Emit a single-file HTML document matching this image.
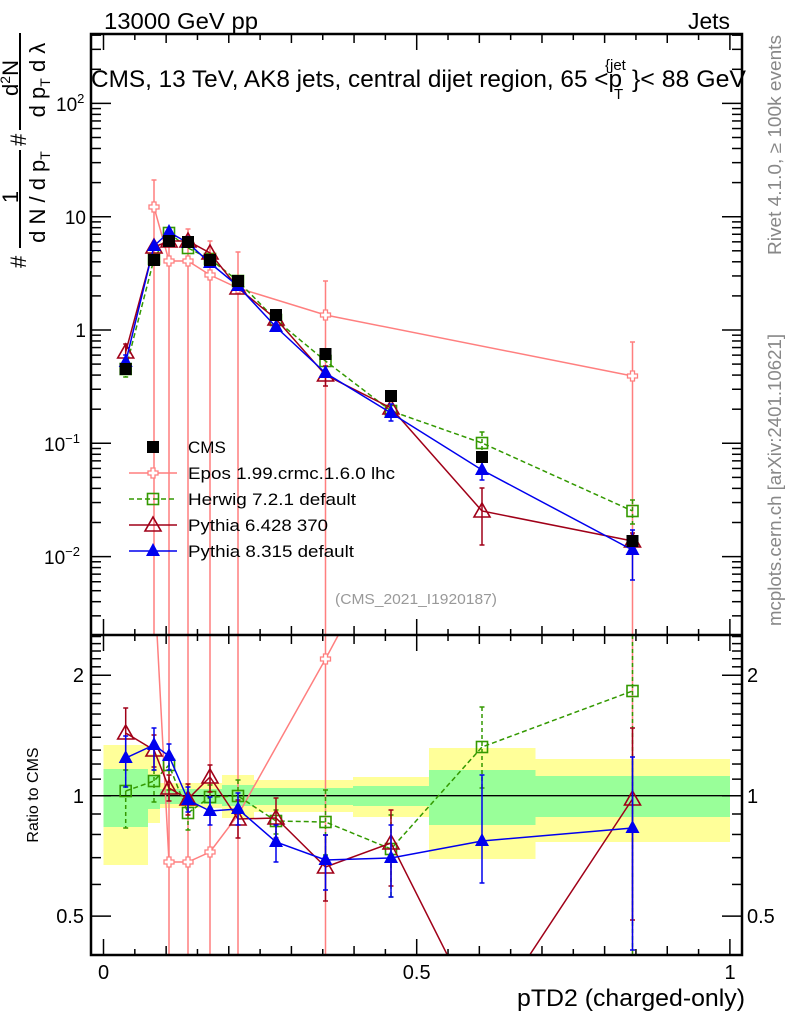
<!DOCTYPE html>
<html><head><meta charset="utf-8"><style>
body{margin:0;background:#fff;}
svg{display:block;font-family:"Liberation Sans",sans-serif;}
</style></head><body>
<svg id="s" width="786" height="1024" xmlns="http://www.w3.org/2000/svg">
<defs>
<clipPath id="cm"><rect x="91" y="34" width="651" height="601"/></clipPath>
<clipPath id="cr"><rect x="91" y="635" width="651" height="320"/></clipPath>
</defs>
<rect width="786" height="1024" fill="#fff"/>
<g id="bands"></g>
<g id="ax"></g>
<g id="dm" clip-path="url(#cm)"></g>
<g id="dr" clip-path="url(#cr)"></g>
<g id="fr"></g>
<text x="104" y="29" font-size="23" textLength="154" lengthAdjust="spacingAndGlyphs">13000 GeV pp</text>
<text x="688" y="29" font-size="23" textLength="42" lengthAdjust="spacingAndGlyphs">Jets</text>
<text x="91" y="87" font-size="24" textLength="531" lengthAdjust="spacingAndGlyphs">CMS, 13 TeV, AK8 jets, central dijet region, 65 &lt;p</text>
<text x="614" y="99" font-size="15">T</text>
<text x="605" y="70" font-size="15">{jet</text>
<text x="632" y="87" font-size="24" textLength="114" lengthAdjust="spacingAndGlyphs">}&lt; 88 GeV</text>
<text x="416" y="604" font-size="15" fill="#999" text-anchor="middle" textLength="162" lengthAdjust="spacingAndGlyphs">(CMS_2021_I1920187)</text>
<text transform="translate(781,145) rotate(-90)" font-size="18" fill="#888" text-anchor="middle" textLength="220" lengthAdjust="spacingAndGlyphs">Rivet 4.1.0, ≥ 100k events</text>
<text transform="translate(781,480) rotate(-90)" font-size="18" fill="#888" text-anchor="middle" textLength="292" lengthAdjust="spacingAndGlyphs">mcplots.cern.ch [arXiv:2401.10621]</text>
<text transform="translate(38,795) rotate(-90)" font-size="16" text-anchor="middle">Ratio to CMS</text>
<text x="745" y="1006" font-size="24" text-anchor="end" textLength="228" lengthAdjust="spacingAndGlyphs">pTD2 (charged-only)</text>
<g font-size="22">
<text transform="translate(26,268) rotate(-90)">#</text>
<line x1="20" y1="248" x2="20" y2="150" stroke="#000" stroke-width="2"/>
<text transform="translate(18,197) rotate(-90)" text-anchor="middle">1</text>
<text transform="translate(45,197) rotate(-90)" text-anchor="middle">d N / d p<tspan font-size="14" dy="5">T</tspan></text>
<text transform="translate(26,146) rotate(-90)">#</text>
<line x1="20" y1="130" x2="20" y2="33" stroke="#000" stroke-width="2"/>
<text transform="translate(18,78) rotate(-90)" text-anchor="middle">d<tspan font-size="14" dy="-8">2</tspan><tspan dy="8">N</tspan></text>
<text transform="translate(45,80) rotate(-90)" text-anchor="middle">d p<tspan font-size="14" dy="5">T</tspan><tspan dy="-5"> d λ</tspan></text>
</g>
<g id="leg"></g>
</svg>
<script>
const NS="http://www.w3.org/2000/svg";
function el(p,t,a,txt){const e=document.createElementNS(NS,t);for(const k in a)e.setAttribute(k,a[k]);if(txt!==undefined)e.textContent=txt;document.getElementById(p).appendChild(e);return e;}
const bands=[[103.5,148,745,865,769,827],[148,160,754,823,776,809],[160,222,783,808,789,804],[222,254,775,818,785,806],[254,353,780,812,788,805],[353,429,777,817,786,806],[429,535.5,748,859,770,825],[535.5,730,759,842,776,817]];
bands.forEach(b=>{el("bands","rect",{x:b[0],y:b[2],width:b[1]-b[0],height:b[3]-b[2],fill:"#ffff99"});el("bands","rect",{x:b[0],y:b[4],width:b[1]-b[0],height:b[5]-b[4],fill:"#99ff99"});});
el("bands","line",{x1:91,y1:795.7,x2:742,y2:795.7,stroke:"#000","stroke-width":1.3});
const L=91,R=742,T=34,M=635,B=955,X0=103.5,XS=626.4;
function ln(x1,y1,x2,y2){el("ax","line",{x1,y1,x2,y2,stroke:"#000","stroke-width":1.5});}
for(let i=0;i<=20;i++){const x=X0+i*0.05*XS;const len=i%10==0?16:(i%2==0?9:6);
 [T,M].forEach(y=>ln(x,y,x,y+len));[M,B].forEach(y=>ln(x,y,x,y-len));}
const y1=330,dec=113.3;
for(let d=-3;d<=2;d++)for(let k=1;k<10;k++){const y=y1-(d+Math.log10(k))*dec;if(y<T||y>M)continue;const len=k==1?20:10;ln(L,y,L+len,y);ln(R,y,R-len,y);}
[["10",104,"2"],["10",217,""],["1",330,""],["10",444,"−1"],["10",557,"−2"]].forEach(a=>{const t=el("ax","text",{x:86,y:a[1]+7,"font-size":19,"text-anchor":"end"},a[0]);if(a[2]){t.setAttribute("text-anchor","start");t.setAttribute("x",a[2].length>1?44:56);const ts=document.createElementNS(NS,"tspan");ts.setAttribute("font-size",13);ts.setAttribute("dy",-8);ts.textContent=a[2];t.appendChild(ts);}});
const r1=795.7,rd=400;
[0.4,0.5,0.6,0.7,0.8,0.9,1,1.1,1.2,1.3,1.4,1.5,1.6,1.7,1.8,1.9,2,2.1,2.2,2.3,2.4,2.5].forEach(v=>{const y=r1-Math.log10(v)*rd;if(y<M||y>B)return;const len=(v==0.5||v==1||v==2)?20:10;ln(L,y,L+len,y);ln(R,y,R-len,y);});
[["2",675],["1",796],["0.5",916]].forEach(a=>{el("ax","text",{x:84,y:a[1]+7,"font-size":20,"text-anchor":"end"},a[0]);el("ax","text",{x:747,y:a[1]+7,"font-size":20},a[0]);});
[["0",103.5],["0.5",416.7],["1",730]].forEach(a=>el("ax","text",{x:a[1],y:979,"font-size":20,"text-anchor":"middle"},a[0]));
const xs=[125.7,154,169,188,210,238,276,325.5,391,482,632.5];
function marker(g,type,x,y,c){
 if(type=="sqf")el(g,"rect",{x:x-6,y:y-6,width:12,height:12,fill:"#000"});
 if(type=="sq")el(g,"rect",{x:x-5.5,y:y-5.5,width:11,height:11,fill:"none",stroke:c,"stroke-width":1.6});
 if(type=="tri")el(g,"path",{d:`M${x} ${y-8}L${x+8} ${y+6}L${x-8} ${y+6}Z`,fill:"none",stroke:c,"stroke-width":1.6});
 if(type=="trif")el(g,"path",{d:`M${x} ${y-8}L${x+7} ${y+5}L${x-7} ${y+5}Z`,fill:c});
 if(type=="cross")el(g,"path",{d:`M${x-2} ${y-5}h4v3h3v4h-3v3h-4v-3h-3v-4h3z`,fill:"#fff",stroke:c,"stroke-width":1.3});
}
function series(g,pts,c,type,dash,errs,mk){
 let d="";pts.forEach((p,i)=>{d+=(i?"L":"M")+p[0]+" "+p[1];});
 const pa={d,fill:"none",stroke:c,"stroke-width":1.5};if(dash)pa["stroke-dasharray"]="5,3";
 el(g,"path",pa);
 (errs||[]).forEach(e=>{if(!e)return;const a={x1:e[0],y1:e[1],x2:e[0],y2:e[2],stroke:c,"stroke-width":1.5};if(dash)a["stroke-dasharray"]="4,3";el(g,"line",a);
  el(g,"line",{x1:e[0]-2.5,x2:e[0]+2.5,y1:e[1],y2:e[1],stroke:c,"stroke-width":1.5});
  el(g,"line",{x1:e[0]-2.5,x2:e[0]+2.5,y1:e[2],y2:e[2],stroke:c,"stroke-width":1.5});});
 (mk||pts).forEach(p=>marker(g,type,p[0],p[1],c));
}
const red="#a00018",grn="#339900",blu="#0000ee",pnk="#ff7f7f";
const cms=[369,260,241,242,260,281,315,354,396,457,541];
const her=[369,259,233,248,259,281,320,361,411,443,511];
const p6=[352,247,241,241,253,288,319,375,408,511,541];
const p8=[362,246,232,243,263,286,327,373,413,470,550];
const eposM=[[154,207],[169,261],[188,261],[210,275],[238,288],[325.5,315],[632.5,376]];
series("dm",eposM,pnk,"cross",false,[[154,180,700],[169,234,700],[188,229,700],[210,241,700],[238,252,700],[325.5,281,700],[632.5,342,700]]);
series("dm",xs.map((x,i)=>[x,her[i]]),grn,"sq",true,[[125.7,362,377],null,null,null,null,null,null,null,null,[482,432,456],[632.5,500,524]]);
series("dm",xs.map((x,i)=>[x,p6[i]]),red,"tri",false,[[125.7,344,360],null,null,null,null,null,null,[325.5,366,386],null,[482,488,545],[632.5,533,549]]);
series("dm",xs.map((x,i)=>[x,p8[i]]),blu,"trif",false,[[125.7,355,370],null,null,null,null,null,null,null,[391,404,421],[482,460,480],[632.5,530,580]]);
xs.forEach((x,i)=>marker("dm","sqf",x,cms[i],"#000"));
const E=[600,1000];
series("dr",[[150,500],[169,862],[188,862],[210,852],[238,815],[325.5,659],[400,520]],pnk,"cross",false,[[169,E[0],E[1]],[188,E[0],E[1]],[210,E[0],E[1]],[238,E[0],E[1]],[325.5,E[0],E[1]],[632.5,E[0],E[1]]],[[169,862],[188,862],[210,852],[325.5,659]]);
const hr=[791,781,765,813,797,796,821,822,849,747,691];
series("dr",xs.map((x,i)=>[x,hr[i]]),grn,"sq",true,[[125.7,770,828],[154,770,802],[169,756,790],[188,800,830],[210,785,808],[238,780,812],[276,810,834],[325.5,790,855],[391,815,897],[482,707,788],[632.5,600,1000]]);
const p6r=[[125.7,733],[154,750],[169,788],[188,799],[210,777],[238,819],[276,818],[325.5,867],[391,843]];
series("dr",p6r.concat([[470,1000],[500,1000],[632.5,799]]),red,"tri",false,[[125.7,708,760],[154,735,767],[169,775,801],[188,784,815],[210,765,792],[238,800,838],[276,798,838],[325.5,835,901],[391,810,886],[632.5,728,920]],p6r.concat([[632.5,799]]));
const r8=[758,745,756,800,811,809,842,860,858,841,828];
series("dr",xs.map((x,i)=>[x,r8[i]]),blu,"trif",false,[[125.7,736,787],[154,728,770],[169,744,770],[188,787,812],[210,797,825],[238,793,825],[276,825,862],[325.5,835,890],[391,825,897],[482,775,883],[632.5,757,950]]);
el("fr","rect",{x:L,y:T,width:R-L,height:B-T,fill:"none",stroke:"#000","stroke-width":2.5});
el("fr","line",{x1:L,y1:M,x2:R,y2:M,stroke:"#000","stroke-width":2.5});
const ly=[447,473,499,525,551];
const lg=[["CMS","#000","sqf",false,0],["Epos 1.99.crmc.1.6.0 lhc",pnk,"cross",false,207],["Herwig 7.2.1 default",grn,"sq",true,168],["Pythia 6.428 370",red,"tri",false,140],["Pythia 8.315 default",blu,"trif",false,166]];
lg.forEach((l,i)=>{const y=ly[i];if(i>0){const a={x1:129,x2:177,y1:y,y2:y,stroke:l[1],"stroke-width":1.5};if(l[3])a["stroke-dasharray"]="5,3";el("leg","line",a);}
 marker("leg",l[2],153,y,l[1]);
 const ta={x:188,y:y+6,"font-size":17};if(l[4]){ta.textLength=l[4];ta.lengthAdjust="spacingAndGlyphs";}
 el("leg","text",ta,l[0]);});
</script>
</body></html>
